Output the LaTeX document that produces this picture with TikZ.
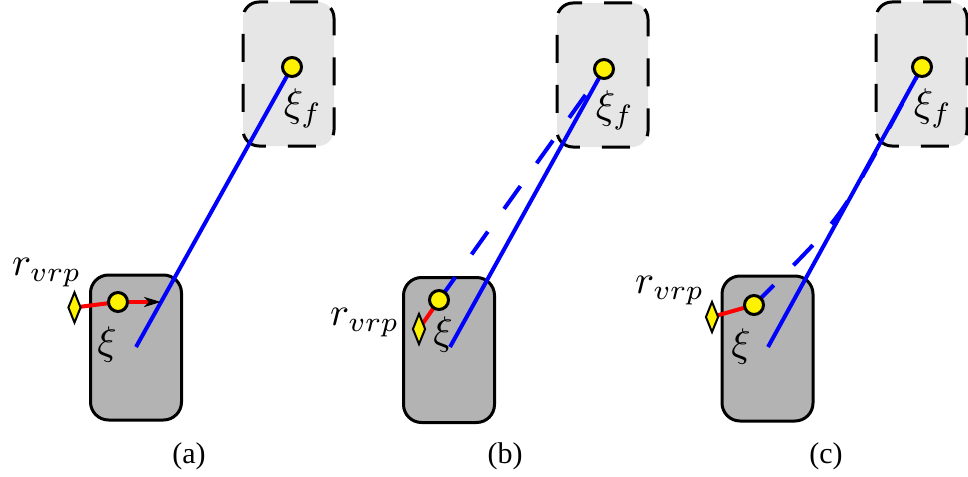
\documentclass[tikz,border=0pt]{standalone}
\usepackage{graphicx}
\usepackage{fontspec}
\newfontfamily\capfont{Liberation Serif}
\usetikzlibrary{shapes.geometric,arrows.meta}
\pgfdeclarelayer{back}
\pgfdeclarelayer{mid}
\pgfsetlayers{back,mid,main}
\definecolor{goalgray}{RGB}{230,230,230}
\definecolor{robotgray}{RGB}{179,179,179}
\newcommand{\bigmath}[1]{\scalebox{4}{$#1$}}
\begin{document}
\begin{tikzpicture}[x=1pt,y=-1pt,
  goalbox/.style={draw=black,fill=goalgray,line width=3pt,dash pattern=on 28pt off 22pt,rounded corners=16pt,minimum width=91pt,minimum height=144pt,inner sep=0pt},
  robotbox/.style={draw=black,fill=robotgray,line width=3pt,rounded corners=18pt,minimum width=91pt,minimum height=145pt,inner sep=0pt},
  pathline/.style={draw=blue,line width=4pt},
  dashline/.style={pathline,dash pattern=on 28pt off 28pt},
  vrpline/.style={draw=red,line width=4pt},
  statedot/.style={circle,draw=black,fill=yellow,line width=3pt,minimum size=19pt,inner sep=0pt},
  vrpmark/.style={diamond,draw=black,fill=yellow,line width=2pt,minimum width=13pt,minimum height=31pt,inner sep=0pt},
  biglabel/.style={inner sep=0pt},
  caplabel/.style={font=\capfont\fontsize{30}{36}\selectfont,inner sep=0pt}]
\useasboundingbox (0,0) rectangle (968,476);

% boxes
\begin{pgfonlayer}{back}
\node[goalbox] (gba) at (288.5,74) {};
\node[goalbox] (gbb) at (602.5,75) {};
\node[goalbox] (gbc) at (921.5,74) {};
\node[robotbox] (rba) at (136,347.5) {};
\node[robotbox] (rbb) at (449,350) {};
\node[robotbox] (rbc) at (767.5,348.5) {};
\end{pgfonlayer}

% states
\node[statedot] (ga) at (292,67) {};
\node[statedot] (gb) at (604,69) {};
\node[statedot] (gc) at (922,67) {};
\node[statedot] (sa) at (118,302) {};
\node[statedot] (sb) at (439,300) {};
\node[statedot] (sc) at (754,305) {};

% vrp marks
\node[vrpmark] (va) at (74.5,307.5) {};
\node[vrpmark] (vb) at (419,329) {};
\node[vrpmark] (vc) at (712,317) {};

% free ends
\coordinate (pa) at (136,347);
\coordinate (pb) at (450,347);
\coordinate (pc) at (768,347);
\coordinate (aa) at (161,302);
\coordinate (cm) at (880,145);

\begin{pgfonlayer}{mid}
\draw[pathline] (pa) -- (ga.center);
\draw[pathline] (pb) -- (gb.center);
\draw[pathline] (pc) -- (gc.center);
\draw[dashline] (sb.center) -- (gb.center);
\draw[dashline] (sc.center) .. controls (838,221) .. (cm) -- (gc.center);
\draw[vrpline] (va.center) -- (sa.center);
\draw[vrpline,-{Stealth[black,length=17pt,width=10pt,inset=5pt]}] (sa.center) -- (aa);
\draw[vrpline] (vb.center) -- (sb.center);
\draw[vrpline] (vc.center) -- (sc.center);
\end{pgfonlayer}

% labels
\node[biglabel] (lga) at (303,108) {\bigmath{\xi_f}};
\node[biglabel] (lgb) at (615,110) {\bigmath{\xi_f}};
\node[biglabel] (lgc) at (933,108) {\bigmath{\xi_f}};
\node[biglabel] (lsa) at (107,344) {\bigmath{\xi}};
\node[biglabel] (lsb) at (443,334) {\bigmath{\xi}};
\node[biglabel] (lsc) at (741,346) {\bigmath{\xi}};
\node[biglabel,anchor=base west] (lva) at (12,275) {\bigmath{r_{vrp}}};
\node[biglabel,anchor=base west] (lvb) at (330,325) {\bigmath{r_{vrp}}};
\node[biglabel,anchor=base west] (lvc) at (635,293) {\bigmath{r_{vrp}}};

% captions
\node[caplabel,anchor=base] (capa) at (189,463) {(a)};
\node[caplabel,anchor=base] (capb) at (505,463) {(b)};
\node[caplabel,anchor=base] (capc) at (826,463) {(c)};
\end{tikzpicture}
\end{document}
